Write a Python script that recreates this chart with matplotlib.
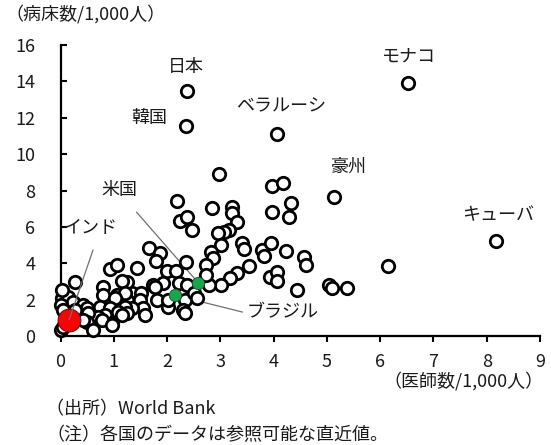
import matplotlib
matplotlib.use("Agg")
import matplotlib.pyplot as plt

plt.rcParams['font.family'] = ['Noto Sans CJK JP', 'DejaVu Sans']

# ---- data (doctors per 1,000 people, hospital beds per 1,000 people) ----
other_doctors = [2.98, 3.97, 4.18, 4.33, 4.29, 3.97, 2.18, 2.25, 2.38, 2.46,
                 2.85, 3.21, 3.22, 3.32, 3.17, 3.07, 2.96, 3.02, 2.83, 2.87,
                 2.74, 3.41, 3.45, 3.79, 3.82, 3.95, 4.23, 4.57, 4.61, 3.54,
                 3.32, 3.19, 3.02, 2.79, 3.93, 4.07, 4.07, 4.44, 5.04, 5.09,
                 5.37, 6.14, 1.67, 1.86, 1.79, 1.43, 0.93, 1.06, 0.27, 1.99,
                 2.16, 2.36, 1.92, 1.73, 2.23, 2.38, 2.33, 2.51, 2.57, 1.82,
                 2.01, 2.29, 2.33, 1.34, 1.52, 1.49, 1.24, 1.24, 1.54, 1.58,
                 1.34, 1.15, 1.06, 1.22, 0.79, 0.79, 0.74, 1.06, 1.21, 0.93,
                 1.24, 1.02, 0.03, 0.14, 0.23, 0.42, 0.50, 0.01, 0.05, 0.93,
                 0.83, 0.70, 0.51, 0.50, 1.07, 1.15, 0.96, 0.61, 0.01, 0.05,
                 0.42, 0.78, 0.96, 1.77, 2.01, 2.74, 0.27, 0.03]
other_beds = [8.90, 8.24, 8.41, 7.31, 6.54, 6.81, 7.42, 6.32, 6.54, 5.82,
              7.03, 7.09, 6.76, 6.26, 5.82, 5.71, 5.66, 5.00, 4.62, 4.29,
              3.90, 5.11, 4.78, 4.73, 4.40, 5.11, 4.67, 4.34, 3.90, 3.85,
              3.46, 3.19, 2.80, 2.80, 3.24, 3.52, 3.02, 2.53, 2.80, 2.64,
              2.64, 3.85, 4.84, 4.56, 4.12, 3.74, 3.68, 3.90, 2.97, 3.57,
              3.57, 4.07, 2.91, 2.80, 2.91, 2.80, 1.98, 2.36, 2.09, 1.98,
              1.59, 1.43, 1.26, 2.36, 2.36, 1.98, 2.97, 1.98, 1.54, 1.15,
              1.54, 3.02, 2.25, 2.36, 2.69, 2.25, 1.59, 1.87, 1.59, 1.26,
              1.26, 2.09, 2.09, 2.14, 1.87, 1.70, 1.54, 1.70, 1.43, 1.54,
              1.15, 1.04, 1.26, 0.77, 1.32, 1.15, 0.71, 0.33, 0.33, 0.49,
              0.88, 0.88, 0.60, 2.69, 1.98, 3.35, 1.43, 2.53]

named_countries = ['日本', '韓国', 'ベラルーシ', 'モナコ', '豪州', 'キューバ']
named_doctors = [2.38, 2.35, 4.07, 6.53, 5.13, 8.18]
named_beds = [13.46, 11.54, 11.10, 13.90, 7.64, 5.22]

green_countries = ['米国', 'ブラジル']
green_doctors = [2.59, 2.14]
green_beds = [2.91, 2.25]

red_country = 'インド'
red_doctors = [0.16]
red_beds = [0.88]

x_ticks = list(range(0, 10))
y_ticks = list(range(0, 17, 2))

# ---- figure ----
fig = plt.figure(figsize=(5.51, 4.45), dpi=100)
ax = fig.add_axes([60.5 / 551, 1 - 336 / 445, (540 - 60.5) / 551, (336 - 45) / 445])
ax.set_xlim(0, 9)
ax.set_ylim(0, 16)

txt_color = '#1a1a1a'
fs = 13

ax.scatter(other_doctors + named_doctors, other_beds + named_beds, s=80,
           facecolor='white', edgecolor='black', linewidths=2.0, zorder=3,
           clip_on=False)
ax.scatter(green_doctors, green_beds, s=80, facecolor='#16a64c',
           edgecolor='#2a4a30', linewidths=0.6, zorder=4, clip_on=False)
ax.scatter(red_doctors, red_beds, s=270, facecolor='#ff0000',
           edgecolor='#5a1a1a', linewidths=0.8, zorder=4, clip_on=False)

# labels of named countries (offsets in pixels)
label_offsets = {'日本': (-1, 24), '韓国': (-36, 8), 'ベラルーシ': (4, 28),
                 'モナコ': (1, 27), '豪州': (15, 30), 'キューバ': (2, 26)}
for name, xd, yd in zip(named_countries, named_doctors, named_beds):
    ax.annotate(name, (xd, yd), xytext=label_offsets[name],
                textcoords='offset pixels', ha='center', va='center',
                fontsize=fs, color=txt_color, zorder=6)

line_kw = dict(arrowstyle='-', color='#707070', lw=0.9, shrinkA=0, shrinkB=0)

# 米国
ax.annotate(green_countries[0], (green_doctors[0], green_beds[0]),
            xytext=(-79, 93), textcoords='offset pixels', ha='center',
            va='center', fontsize=fs, color=txt_color, zorder=6)
ax.annotate('', (green_doctors[0], green_beds[0]), xytext=(-62, 71),
            textcoords='offset pixels', arrowprops=line_kw, zorder=1)
# ブラジル
ax.annotate(green_countries[1], (green_doctors[1], green_beds[1]),
            xytext=(72, -17), textcoords='offset pixels', ha='left',
            va='center', fontsize=fs, color=txt_color, zorder=6)
ax.annotate('', (green_doctors[1], green_beds[1]), xytext=(68, -17),
            textcoords='offset pixels', arrowprops=line_kw, zorder=1)
# インド
ax.annotate(red_country, (red_doctors[0], red_beds[0]),
            xytext=(21, 92), textcoords='offset pixels', ha='center',
            va='center', fontsize=fs, color=txt_color, zorder=6)
ax.annotate('', (red_doctors[0], red_beds[0]), xytext=(24, 70),
            textcoords='offset pixels', arrowprops=line_kw, zorder=5)

# axes styling
for side in ('top', 'right'):
    ax.spines[side].set_visible(False)
for side in ('left', 'bottom'):
    ax.spines[side].set_linewidth(1.6)
    ax.spines[side].set_color('black')
ax.set_xticks(x_ticks)
ax.set_yticks(y_ticks)
ax.tick_params(axis='y', direction='in', length=4, width=1.5, pad=18,
               labelsize=fs, labelcolor=txt_color)
ax.tick_params(axis='x', direction='out', length=4, width=1.5, pad=8,
               labelsize=fs, labelcolor=txt_color)

fig.text(5 / 551, 1 - 14 / 445, '（病床数/1,000人）', ha='left', va='center',
         fontsize=fs, color=txt_color)
fig.text(544 / 551, 1 - 381 / 445, '（医師数/1,000人）', ha='right', va='center',
         fontsize=fs, color=txt_color)
fig.text(46 / 551, 1 - 409 / 445, '（出所）World Bank', ha='left', va='center',
         fontsize=fs, color=txt_color)
fig.text(46 / 551, 1 - 435 / 445, '（注）各国のデータは参照可能な直近値。', ha='left',
         va='center', fontsize=fs, color=txt_color)

fig.savefig('out.png', dpi=100)
